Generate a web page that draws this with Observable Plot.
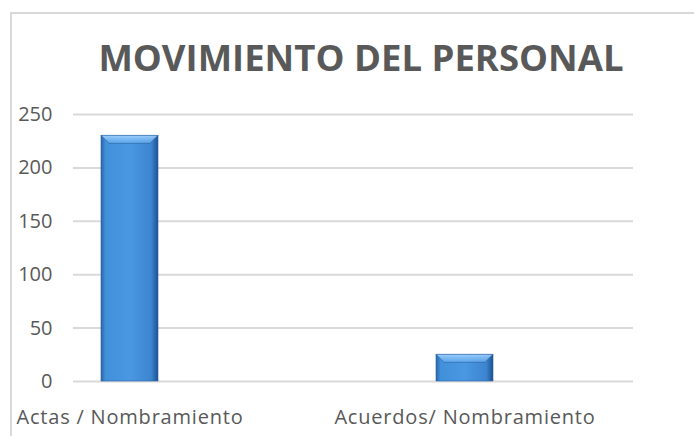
<!DOCTYPE html>
<html>
<head>
<meta charset="utf-8">
<script src="https://cdn.jsdelivr.net/npm/d3@7"></script>
<script src="https://cdn.jsdelivr.net/npm/@observablehq/plot@0.6"></script>
<style>
  html, body { margin: 0; padding: 0; background: #fff; }
  #wrap { position: relative; width: 694px; height: 436px; overflow: hidden; font-family: "Open Sans", sans-serif; }
  #frame { position: absolute; left: 10px; top: 12px; width: 720px; height: 460px; border: 2px solid #d9d9d9; box-sizing: border-box; }
  #title { position: absolute; left: 0; top: 39px; width: 722px; text-align: center; font-size: 36.5px; line-height: 36.5px; font-weight: 700; color: #595959; white-space: nowrap; }
  #chart { position: absolute; left: 0; top: 95px; }
  #chart g[aria-label="x-axis tick label"] text { letter-spacing: 0.8px; }
</style>
</head>
<body>
<div id="wrap">
  <div id="frame"></div>
  <div id="title">MOVIMIENTO DEL PERSONAL</div>
  <div id="chart"></div>
</div>
<script>
const categories = ["Actas / Nombramiento", "Acuerdos/ Nombramiento"];
const values = [230, 25];
const yTicks = [0, 50, 100, 150, 200, 250];

const data = categories.map((c, i) => ({category: c, value: values[i]}));

const plot = Plot.plot({
  width: 694,
  height: 341,
  marginTop: 19,
  marginBottom: 55,
  marginLeft: 73,
  marginRight: 61,
  style: {fontFamily: "Open Sans, sans-serif", fontSize: "20px", color: "#595959", background: "transparent"},
  x: {domain: categories, paddingInner: 0.83, paddingOuter: 0.25, align: 0.167, label: null},
  y: {domain: [0, 250], label: null},
  marks: [
    Plot.gridY(yTicks, {stroke: "#d9d9d9", strokeOpacity: 1, strokeWidth: 2}),
    Plot.barY(data, {x: "category", y: "value", fill: "url(#hgrad)", stroke: "#2a62a3", strokeWidth: 0.6, style: "filter:url(#shadow)"}),
    Plot.axisY(yTicks, {tickSize: 0, tickPadding: 21, fill: "#595959", fontSize: 20, label: null}),
    Plot.axisX({tickSize: 0, tickPadding: 28, fill: "#595959", fontSize: 20, label: null})
  ]
});

document.getElementById("chart").appendChild(plot);

const svg = d3.select(plot);
svg.selectAll("g[aria-label='x-axis tick label'] text").style("letter-spacing", "0.8px");
const defs = svg.insert("defs", ":first-child");
const hg = defs.append("linearGradient").attr("id", "hgrad").attr("x1", 0).attr("x2", 1).attr("y1", 0).attr("y2", 0);
[["0%", "#2b64a8"], ["8%", "#4190da"], ["50%", "#4a97e2"], ["88%", "#3d85d0"], ["100%", "#1d5190"]]
  .forEach(([o, c]) => hg.append("stop").attr("offset", o).attr("stop-color", c));
const f = defs.append("filter").attr("id", "shadow").attr("x", "-20%").attr("y", "-20%").attr("width", "140%").attr("height", "140%");
f.append("feDropShadow").attr("dx", 0).attr("dy", 2).attr("stdDeviation", 1.5).attr("flood-color", "#000").attr("flood-opacity", 0.25);

// top bevel highlight, derived from each rendered bar
svg.selectAll("g[aria-label='bar'] rect").each(function(d, i) {
  const r = d3.select(this);
  const x = +r.attr("x"), y = +r.attr("y"), w = +r.attr("width"), h = +r.attr("height");
  const b = Math.min(8, h / 3);
  const id = "vg" + i;
  const vg = defs.append("linearGradient").attr("id", id).attr("gradientUnits", "userSpaceOnUse")
    .attr("x1", 0).attr("x2", 0).attr("y1", y).attr("y2", y + b);
  vg.append("stop").attr("offset", "0%").attr("stop-color", "#a6d6ff").attr("stop-opacity", 0.9);
  vg.append("stop").attr("offset", "100%").attr("stop-color", "#74b8f5").attr("stop-opacity", 0.5);
  d3.select(this.parentNode).append("polygon")
    .attr("points", `${x},${y} ${x + w},${y} ${x + w - b},${y + b} ${x + b},${y + b}`)
    .attr("fill", `url(#${id})`);
});
</script>
</body>
</html>
